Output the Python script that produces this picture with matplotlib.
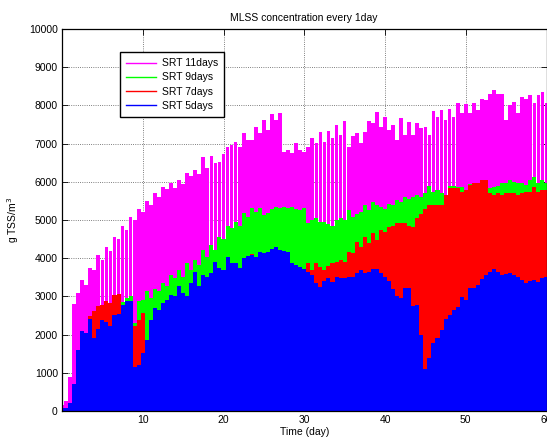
import numpy as np
import matplotlib
matplotlib.use("Agg")
import matplotlib.pyplot as plt

# time axis (days), half-day readings
t = np.arange(0, 60.01, 0.5)

srt11 = [150, 250, 900, 2800, 3100, 3430, 3300, 3740, 3700, 4090,
         3950, 4300, 4200, 4565, 4500, 4840, 4750, 5090, 5000, 5300,
         5200, 5500, 5400, 5710, 5600, 5870, 5800, 5960, 5830, 6060,
         5950, 6235, 6150, 6300, 6200, 6650, 6350, 6670, 6500, 6520,
         6720, 6900, 6960, 7050, 6920, 7290, 7100, 7100, 7430, 7270,
         7620, 7350, 7775, 7620, 7810, 6790, 6830, 6750, 7010, 6830,
         6790, 6900, 7140, 7010, 7310, 7050, 7340, 7140, 7490, 7230,
         7600, 6920, 7200, 7270, 7010, 7300, 7600, 7530, 7830, 7440,
         7700, 7350, 7480, 7090, 7660, 7220, 7570, 7220, 7550, 7400,
         7440, 7220, 7860, 7700, 7880, 7620, 7900, 7700, 8070, 7790,
         8030, 7790, 8050, 7880, 8160, 8140, 8300, 8400, 8310, 8310,
         7620, 8000, 8100, 7790, 8230, 8180, 8270, 8050, 8270, 8360,
         8050]

srt9 = [70, 70, 150, 600, 1500, 2000, 1950, 2350, 2500, 2650,
        2700, 2800, 2750, 2950, 3000, 2850, 2950, 3000, 2300, 2870,
        2900, 3130, 2960, 3200, 3130, 3350, 3260, 3570, 3480, 3700,
        3520, 3870, 3700, 3960, 3830, 4220, 4040, 4350, 4220, 4560,
        4500, 4830, 4780, 4960, 4830, 5175, 5090, 5310, 5220, 5310,
        5130, 5175, 5300, 5350, 5310, 5350, 5310, 5350, 5300, 5260,
        5310, 4910, 5000, 5040, 4960, 4960, 4900, 4830, 5000, 5040,
        5000, 5260, 5090, 5150, 5220, 5390, 5260, 5480, 5400, 5350,
        5300, 5430, 5400, 5520, 5480, 5610, 5560, 5600, 5650, 5610,
        5700, 5890, 5740, 5780, 5700, 5650, 5880, 5890, 5870, 5870,
        5740, 5940, 5910, 5910, 6040, 5960, 5830, 5870, 5900, 5960,
        5960, 6040, 6000, 5960, 5960, 5910, 6040, 6130, 5960, 6040,
        5960]

srt7 = [80, 80, 180, 650, 1550, 2050, 2000, 2480, 2610, 2740,
        2780, 2870, 2840, 3040, 3070, 2700, 2800, 2850, 2220, 2390,
        2565, 1850, 2350, 2650, 2600, 2780, 2850, 2990, 2950, 3200,
        3050, 2950, 3300, 3580, 3200, 3500, 3450, 3560, 3850, 3700,
        3640, 3990, 3820, 3820, 3700, 3950, 4000, 4120, 4000, 4120,
        4080, 4120, 4200, 4250, 4170, 4150, 4120, 3820, 3770, 3730,
        3700, 3870, 3690, 3870, 3780, 3690, 3800, 3870, 3910, 3950,
        3910, 4170, 4130, 4430, 4300, 4560, 4390, 4650, 4480, 4740,
        4690, 4820, 4850, 4910, 4910, 4910, 4850, 4820, 5040, 5170,
        5300, 5390, 5390, 5390, 5390, 5650, 5830, 5830, 5830, 5740,
        5780, 5910, 5960, 5960, 6040, 6060, 5700, 5650, 5700, 5650,
        5700, 5700, 5700, 5650, 5700, 5740, 5740, 5870, 5740, 5780,
        5780]

srt5 = [90, 90, 200, 700, 1600, 2090, 2040, 2410, 1900, 2150,
        2390, 2320, 2220, 2500, 2550, 2780, 2870, 2870, 1150, 1200,
        1520, 1870, 2390, 2700, 2650, 2830, 2900, 3040, 3000, 3260,
        3100, 3000, 3350, 3630, 3260, 3570, 3500, 3610, 3900, 3740,
        3690, 4040, 3870, 3870, 3740, 4000, 4050, 4080, 4040, 4170,
        4130, 4170, 4250, 4300, 4220, 4200, 4170, 3870, 3820, 3780,
        3720, 3650, 3560, 3340, 3250, 3400, 3470, 3390, 3520, 3470,
        3470, 3500, 3520, 3600, 3690, 3600, 3650, 3730, 3730, 3600,
        3500, 3400, 3200, 3000, 2950, 3210, 3210, 2750, 2780, 2000,
        1100, 1400, 1770, 1900, 2120, 2400, 2500, 2650, 2730, 2990,
        2900, 3210, 3210, 3300, 3450, 3560, 3650, 3730, 3640, 3560,
        3580, 3600, 3550, 3500, 3420, 3340, 3400, 3420, 3380, 3470,
        3510]

labels = ["SRT 11days", "SRT 9days", "SRT 7days", "SRT 5days"]
colors = ["#FF00FF", "#00FF00", "#FF0000", "#0000FF"]

xticks = [10, 20, 30, 40, 50, 60]
yticks = list(range(0, 10001, 1000))

plt.rcParams['font.family'] = ['Liberation Sans', 'DejaVu Sans']
fs = 7.5

fig = plt.figure(figsize=(5.47, 4.42), dpi=100)
ax = fig.add_axes([62/547, 31/442, 484.5/547, 382/442])

# SRT 11 drawn as narrow bars to mimic dense sawtooth with thin gaps
ax.bar(t, srt11, width=0.46, color=colors[0], linewidth=0, zorder=2)
for vals, c, z in [(srt9, colors[1], 3), (srt7, colors[2], 4), (srt5, colors[3], 5)]:
    ax.fill_between(t, 0, vals, step='mid', color=c, linewidth=0, zorder=z)

# legend proxies
for lab, c in zip(labels, colors):
    ax.plot([], [], color=c, lw=1.0, label=lab)

ax.set_xlim(0, 60)
ax.set_ylim(0, 10000)
ax.set_xticks(xticks)
ax.set_yticks(yticks)
ax.tick_params(direction='in', length=4, width=0.6, top=True, right=True,
               labelsize=fs, pad=3)
ax.grid(True, color='#555555', linestyle=':', linewidth=0.6)
ax.set_axisbelow(True)
for s in ax.spines.values():
    s.set_linewidth(0.9)
    s.set_zorder(10)

ax.set_title("MLSS concentration every 1day", fontsize=fs, pad=6)
ax.set_xlabel("Time (day)", fontsize=fs, labelpad=1)
ax.set_ylabel("g TSS/m$^3$", fontsize=fs, labelpad=6)

leg = ax.legend(loc='upper left', bbox_to_anchor=(0.12, 0.94), borderaxespad=0,
                fancybox=False, framealpha=1, edgecolor='black', fontsize=fs,
                handlelength=2.8, handletextpad=0.6, borderpad=0.6,
                labelspacing=0.4)
leg.get_frame().set_linewidth(1.0)
leg.set_zorder(20)

fig.savefig("out.png", dpi=100)
